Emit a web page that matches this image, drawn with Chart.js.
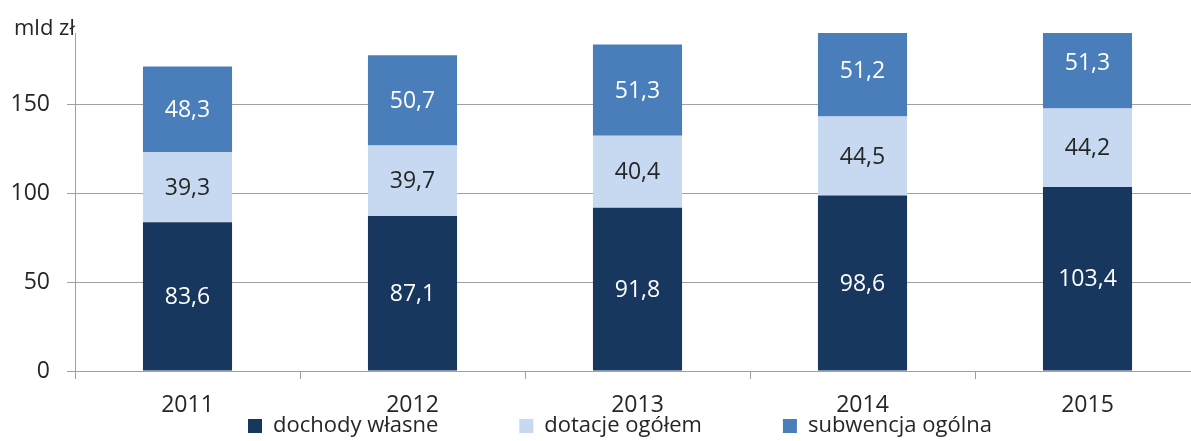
<!DOCTYPE html>
<html>
<head>
<meta charset="utf-8">
<script src="https://cdn.jsdelivr.net/npm/chart.js@4.4.1/dist/chart.umd.min.js"></script>
<style>
  html, body { margin: 0; padding: 0; overflow: hidden; background: #fff; }
  #wrap { width: 1200px; height: 441px; position: relative; }
</style>
</head>
<body>
<div id="wrap"><canvas id="c"></canvas></div>
<script>
const years = ['2011', '2012', '2013', '2014', '2015'];
const dochodyWlasne = [83.6, 87.1, 91.8, 98.6, 103.4];
const dotacjeOgolem = [39.3, 39.7, 40.4, 44.5, 44.2];
const subwencjaOgolna = [48.3, 50.7, 51.3, 51.2, 51.3];
const yTickValues = [0, 50, 100, 150];
const seriesNames = ['dochody własne', 'dotacje ogółem', 'subwencja ogólna'];
const unitLabel = 'mld zł';

const FONT = "'Open Sans', 'Noto Sans', sans-serif";
const TEXT = '#262626';
const GRID = '#a0a0a0';
const LEGEND_PAD = 81;
const labelColors = ['#ffffff', '#262626', '#ffffff'];

const labelsPlugin = {
  id: 'barLabels',
  afterDatasetsDraw(chart) {
    const ctx = chart.ctx;
    ctx.save();
    ctx.font = '23px ' + FONT;
    ctx.textAlign = 'center';
    ctx.textBaseline = 'middle';
    chart.data.datasets.forEach((ds, di) => {
      const meta = chart.getDatasetMeta(di);
      ctx.fillStyle = labelColors[di];
      meta.data.forEach((el, i) => {
        const v = ds.data[i];
        const y = (el.y + el.base) / 2;
        ctx.fillText(v.toFixed(1).replace('.', ','), el.x, y + 1);
      });
    });
    ctx.restore();
  }
};

const unitPlugin = {
  id: 'unitLabel',
  afterDraw(chart) {
    const ctx = chart.ctx;
    ctx.save();
    ctx.fillStyle = TEXT;
    ctx.font = '22px ' + FONT;
    ctx.textAlign = 'left';
    ctx.textBaseline = 'alphabetic';
    ctx.fillText(unitLabel, 14, 35);
    ctx.restore();
  }
};

const legendShift = {
  id: 'legendShift',
  afterLayout(chart) {
    const lg = chart.legend;
    if (!lg || !lg.lineWidths) return;
    const x0 = (lg.left + LEGEND_PAD + lg.right - lg.lineWidths[0]) / 2;
    const dx = 248 - x0;
    lg.top = 415 - LEGEND_PAD;
    lg.left += dx;
    lg.right += dx;
  }
};

new Chart(document.getElementById('c'), {
  type: 'bar',
  data: {
    labels: years,
    datasets: [
      { label: seriesNames[0], data: dochodyWlasne, backgroundColor: '#17375E' },
      { label: seriesNames[1], data: dotacjeOgolem, backgroundColor: '#C6D9F1' },
      { label: seriesNames[2], data: subwencjaOgolna, backgroundColor: '#4A7EBB' }
    ]
  },
  options: {
    responsive: true,
    maintainAspectRatio: false,
    animation: false,
    devicePixelRatio: 1,
    layout: { padding: { top: 33, left: 0, right: 0, bottom: 0 } },
    datasets: { bar: { barPercentage: 0.396, categoryPercentage: 1.0, borderWidth: 0 } },
    plugins: {
      tooltip: { enabled: false },
      legend: {
        position: 'bottom',
        maxHeight: 20,
        labels: {
          boxWidth: 14,
          boxHeight: 14,
          padding: LEGEND_PAD,
          color: TEXT,
          font: { family: FONT, size: 22 }
        }
      }
    },
    scales: {
      x: {
        stacked: true,
        offset: true,
        afterFit(scale) { scale.height = 50; },
        grid: { display: true, drawOnChartArea: false, drawTicks: true, tickLength: 8, color: GRID, offset: true },
        border: { display: true, color: GRID, width: 1 },
        ticks: { color: TEXT, font: { family: FONT, size: 23 }, padding: 13, maxRotation: 0 }
      },
      y: {
        stacked: true,
        min: 0,
        max: 190,
        afterFit(scale) { scale.width = 75; },
        afterBuildTicks(scale) { scale.ticks = yTickValues.map(v => ({ value: v })); },
        grid: { display: true, drawOnChartArea: true, drawTicks: true, tickLength: 8, color: GRID, lineWidth: 1 },
        border: { display: true, color: GRID, width: 1 },
        ticks: { color: TEXT, font: { family: FONT, size: 23 }, padding: 17 }
      }
    }
  },
  plugins: [labelsPlugin, unitPlugin, legendShift]
});
</script>
</body>
</html>
